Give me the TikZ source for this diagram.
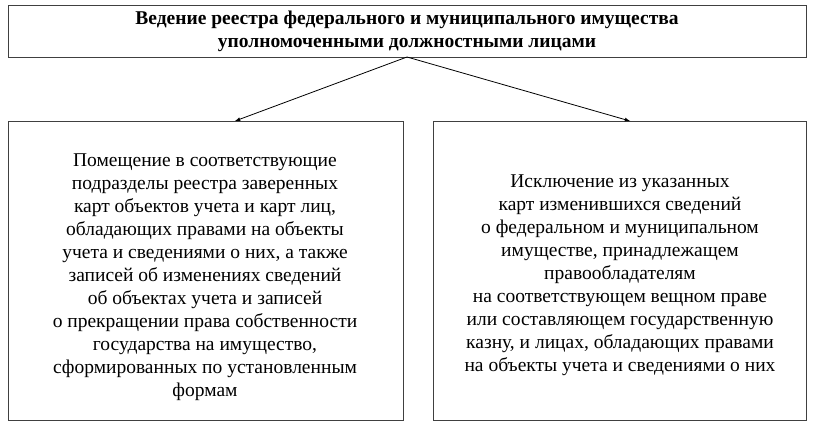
\documentclass[tikz,border=0pt]{standalone}
\usepackage{fontspec}
\setmainfont{Liberation Serif}
\begin{document}
\begin{tikzpicture}[x=1pt,y=-1pt,
  box/.style={draw=black!75,line width=0.8pt},
  txt/.style={align=center,font=\fontsize{19.5}{23}\selectfont},
  arr/.style={-latex,line width=0.8pt}]
\useasboundingbox (0,0) rectangle (814,428);
\draw[box] (8,5) rectangle (806,57);
\node[txt,font=\bfseries\fontsize{19.5}{23}\selectfont] (top) at (407,31) {Ведение реестра федерального и муниципального имущества\\уполномоченными должностными лицами};
\draw[box] (8,121) rectangle (403,420);
\draw[box] (433,121) rectangle (806,420);
\coordinate (t) at (407,57);
\coordinate (l) at (235,121);
\coordinate (r) at (630,121);
\draw[arr] (t) -- (l);
\draw[arr] (t) -- (r);
\node[txt] (left) at (205,277) {Помещение в соответствующие\\подразделы реестра заверенных\\карт объектов учета и карт лиц,\\обладающих правами на объекты\\учета и сведениями о них, а также\\записей об изменениях сведений\\об объектах учета и записей\\о прекращении права собственности\\государства на имущество,\\сформированных по установленным\\формам};
\node[txt] (right) at (620,275) {Исключение из указанных\\карт изменившихся сведений\\о федеральном и муниципальном\\имуществе, принадлежащем\\правообладателям\\на соответствующем вещном праве\\или составляющем государственную\\казну, и лицах, обладающих правами\\на объекты учета и сведениями о них};
\end{tikzpicture}
\end{document}
